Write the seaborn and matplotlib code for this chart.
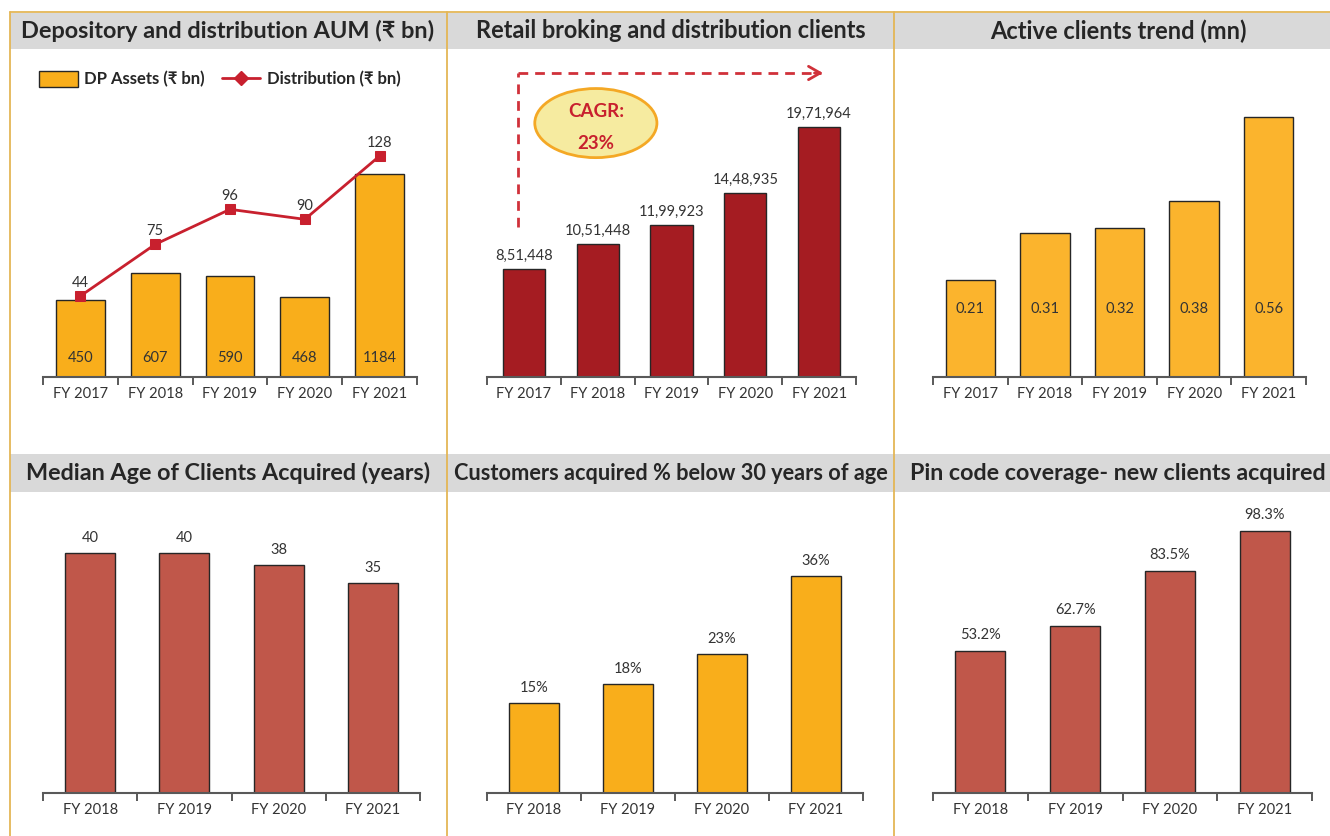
import numpy as np
import pandas as pd
import matplotlib
matplotlib.use("Agg")
import matplotlib.pyplot as plt
import seaborn as sns
from matplotlib.patches import Rectangle, Ellipse, Patch
from matplotlib.lines import Line2D
import matplotlib.transforms as mtransforms

# ---------------- data ----------------
years5 = ["FY 2017", "FY 2018", "FY 2019", "FY 2020", "FY 2021"]
years4 = ["FY 2018", "FY 2019", "FY 2020", "FY 2021"]

dp_assets = [450, 607, 590, 468, 1184]          # ₹ bn
distribution = [44, 75, 96, 90, 128]             # ₹ bn
retail_clients = [851448, 1051448, 1199923, 1448935, 1971964]
active_clients = [0.21, 0.31, 0.32, 0.38, 0.56]  # mn
median_age = [40, 40, 38, 35]
below30_pct = [15, 18, 23, 36]
pincode_pct = [53.2, 62.7, 83.5, 98.3]

titles = [
    "Depository and distribution AUM (₹ bn)",
    "Retail broking and distribution clients",
    "Active clients trend (mn)",
    "Median Age of Clients Acquired (years)",
    "Customers acquired % below 30 years of age",
    "Pin code coverage- new clients acquired",
]

# ---------------- style ----------------
sns.set_theme(style="white")
plt.rcParams["font.family"] = ["Lato", "DejaVu Sans"]

ORANGE = "#F9AE1B"
ORANGE2 = "#FBB42D"
DARKRED = "#A51C22"
BRICK = "#C0574A"
LINERED = "#C8202E"
GOLD = "#E4B656"
GRAYBAR = "#D9D9D9"
TXT = "#262626"
LBL = "#333333"
AXC = "#595959"

W, H = 1330, 836
fig = plt.figure(figsize=(W / 100, H / 100), dpi=100)
fig.patch.set_facecolor("white")


def fx(x):
    return x / W


def fy(y):
    return 1 - y / H


def add_axes(l, r, t, b):
    return fig.add_axes([fx(l), fy(b), fx(r) - fx(l), fy(t) - fy(b)])


# title bars
for (y0, y1) in [(13, 49), (454, 492)]:
    fig.patches.append(Rectangle((fx(10), fy(y1)), fx(1330) - fx(10), fy(y0) - fy(y1),
                                 transform=fig.transFigure, facecolor=GRAYBAR,
                                 edgecolor="none", zorder=0))
# gold borders
border_kw = dict(transform=fig.transFigure, color=GOLD, lw=1.3, zorder=1)
fig.lines.append(Line2D([fx(10), fx(1330)], [fy(12), fy(12)], **border_kw))
for xx in [10, 447, 894]:
    fig.lines.append(Line2D([fx(xx), fx(xx)], [fy(12), fy(836)], **border_kw))

# titles (font size fitted to the width each title occupies in the reference)
title_pos = [(228, 31), (671, 31), (1118, 31), (228, 473), (671, 473), (1118, 473)]
title_w = [414, 392, 257, 406, 434, 417]
renderer = fig.canvas.get_renderer()
for t, (x, y), tw in zip(titles, title_pos, title_w):
    txt = fig.text(fx(x), fy(y), t, ha="center", va="center", fontsize=17,
                   fontweight="bold", color=TXT)
    w = txt.get_window_extent(renderer=renderer).width
    txt.set_fontsize(min(17.5, 17 * tw / w))


def style_axis(ax, n):
    ax.set_xlim(-0.5, n - 0.5)
    for s in ["top", "right", "left"]:
        ax.spines[s].set_visible(False)
    ax.spines["bottom"].set_color(AXC)
    ax.spines["bottom"].set_linewidth(1.5)
    ax.set_yticks([])
    ax.set_ylabel("")
    ax.set_xlabel("")
    ax.set_xticks(np.arange(-0.5, n, 1.0))
    ax.set_xticklabels([])
    ax.set_xticks(np.arange(n), minor=True)
    ax.tick_params(axis="x", which="major", length=5.5, width=1.4, color=AXC,
                   direction="out", bottom=True)
    ax.tick_params(axis="x", which="minor", length=0, pad=7, labelsize=10.5,
                   labelcolor=LBL, bottom=True)
    ax.patch.set_alpha(0)


def bars(ax, cats, vals, color, width, ymax):
    sns.barplot(x=cats, y=vals, ax=ax, color=color, width=width, saturation=1,
                edgecolor="#262626", linewidth=1.0, errorbar=None)
    ax.set_ylim(0, ymax)
    style_axis(ax, len(cats))
    ax.set_xticklabels(cats, minor=True)


def top_labels(ax, vals, texts, off_px):
    for i, (v, t) in enumerate(zip(vals, texts)):
        ax.annotate(t, (i, v), xytext=(0, off_px * 0.72), textcoords="offset points",
                    ha="center", va="center", fontsize=10.5, color=LBL)


def indian(n):
    s = str(int(n))
    if len(s) <= 3:
        return s
    last3 = s[-3:]
    rest = s[:-3]
    parts = []
    while len(rest) > 2:
        parts.insert(0, rest[-2:])
        rest = rest[:-2]
    if rest:
        parts.insert(0, rest)
    return ",".join(parts) + "," + last3


# ---------- Panel 1 ----------
ax1 = add_axes(43, 417, 100, 377)
bars(ax1, years5, dp_assets, ORANGE, 0.65, 1616)
blend1 = mtransforms.blended_transform_factory(ax1.transData, ax1.transAxes)
for i, v in enumerate(dp_assets):
    ax1.text(i, 0.068, f"{v}", transform=blend1, ha="center", va="center",
             fontsize=10.5, color=LBL)
ax1b = ax1.twinx()
sns.lineplot(x=np.arange(len(distribution)), y=distribution, ax=ax1b, color=LINERED,
             lw=2, marker="s", markersize=7, markeredgecolor=LINERED, sort=False)
ax1b.set_ylim(-4.6, 161.6)
ax1b.set_yticks([])
ax1b.set_ylabel("")
for s in ["top", "right", "left", "bottom"]:
    ax1b.spines[s].set_visible(False)
for i, v in enumerate(distribution):
    ax1b.annotate(f"{v}", (i, v), xytext=(0, 13 * 0.72), textcoords="offset points",
                  ha="center", va="center", fontsize=10.5, color=LBL)
handles = [Patch(facecolor=ORANGE, edgecolor="#262626", lw=1.0),
           Line2D([], [], color=LINERED, lw=2, marker="D", markersize=7)]
fig.legend(handles, ["DP Assets (₹ bn)", "Distribution (₹ bn)"], loc="center",
           bbox_to_anchor=(fx(220), fy(79)), ncol=2, frameon=False,
           prop=dict(weight="bold", size=12), handlelength=2.3, handleheight=1.1,
           columnspacing=1.0, handletextpad=0.4, labelcolor=TXT)

# ---------- Panel 2 ----------
ax2 = add_axes(487, 856, 60, 377)
bars(ax2, years5, retail_clients, DARKRED, 0.57, 2.5e6)
top_labels(ax2, retail_clients, [indian(v) for v in retail_clients], 13)
dash_kw = dict(color="#D0313A", lw=2, ls=(0, (3.5, 2.5)), transform=ax2.transAxes,
               clip_on=False)
ax2.plot([0.084, 0.084], [0.473, 0.959], **dash_kw)
ax2.plot([0.084, 0.905], [0.959, 0.959], **dash_kw)
ax2.annotate("", xy=(0.918, 0.959), xytext=(0.88, 0.959), xycoords="axes fraction",
             textcoords="axes fraction",
             arrowprops=dict(arrowstyle="->,head_length=0.7,head_width=0.4",
                             color="#D0313A", lw=2))
ax2.add_patch(Ellipse((0.295, 0.801), 0.331, 0.218, transform=ax2.transAxes,
                      facecolor="#F6EBA0", edgecolor="#F4A825", lw=2, clip_on=False))
ax2.text(0.295, 0.839, "CAGR:", transform=ax2.transAxes, ha="center", va="center",
         fontsize=13.5, fontweight="bold", color="#C8202E")
ax2.text(0.295, 0.738, "23%", transform=ax2.transAxes, ha="center", va="center",
         fontsize=13.5, fontweight="bold", color="#C8202E")

# ---------- Panel 3 ----------
ax3 = add_axes(933, 1306, 60, 377)
bars(ax3, years5, active_clients, ORANGE2, 0.66, 0.683)
blend3 = mtransforms.blended_transform_factory(ax3.transData, ax3.transAxes)
for i, v in enumerate(active_clients):
    ax3.text(i, 0.2145, f"{v:.2f}", transform=blend3, ha="center", va="center",
             fontsize=10.5, color=LBL)

# ---------- Panel 4 ----------
ax4 = add_axes(43, 420, 500, 793)
bars(ax4, years4, median_age, BRICK, 0.53, 48.8)
top_labels(ax4, median_age, [f"{v}" for v in median_age], 15)

# ---------- Panel 5 ----------
ax5 = add_axes(487, 863, 500, 793)
bars(ax5, years4, below30_pct, ORANGE, 0.53, 48.6)
top_labels(ax5, below30_pct, [f"{v}%" for v in below30_pct], 15)

# ---------- Panel 6 ----------
ax6 = add_axes(933, 1312, 500, 793)
bars(ax6, years4, pincode_pct, BRICK, 0.53, 110)
top_labels(ax6, pincode_pct, [f"{v:.1f}%" for v in pincode_pct], 16)

fig.savefig("out.png", dpi=100, facecolor="white")
